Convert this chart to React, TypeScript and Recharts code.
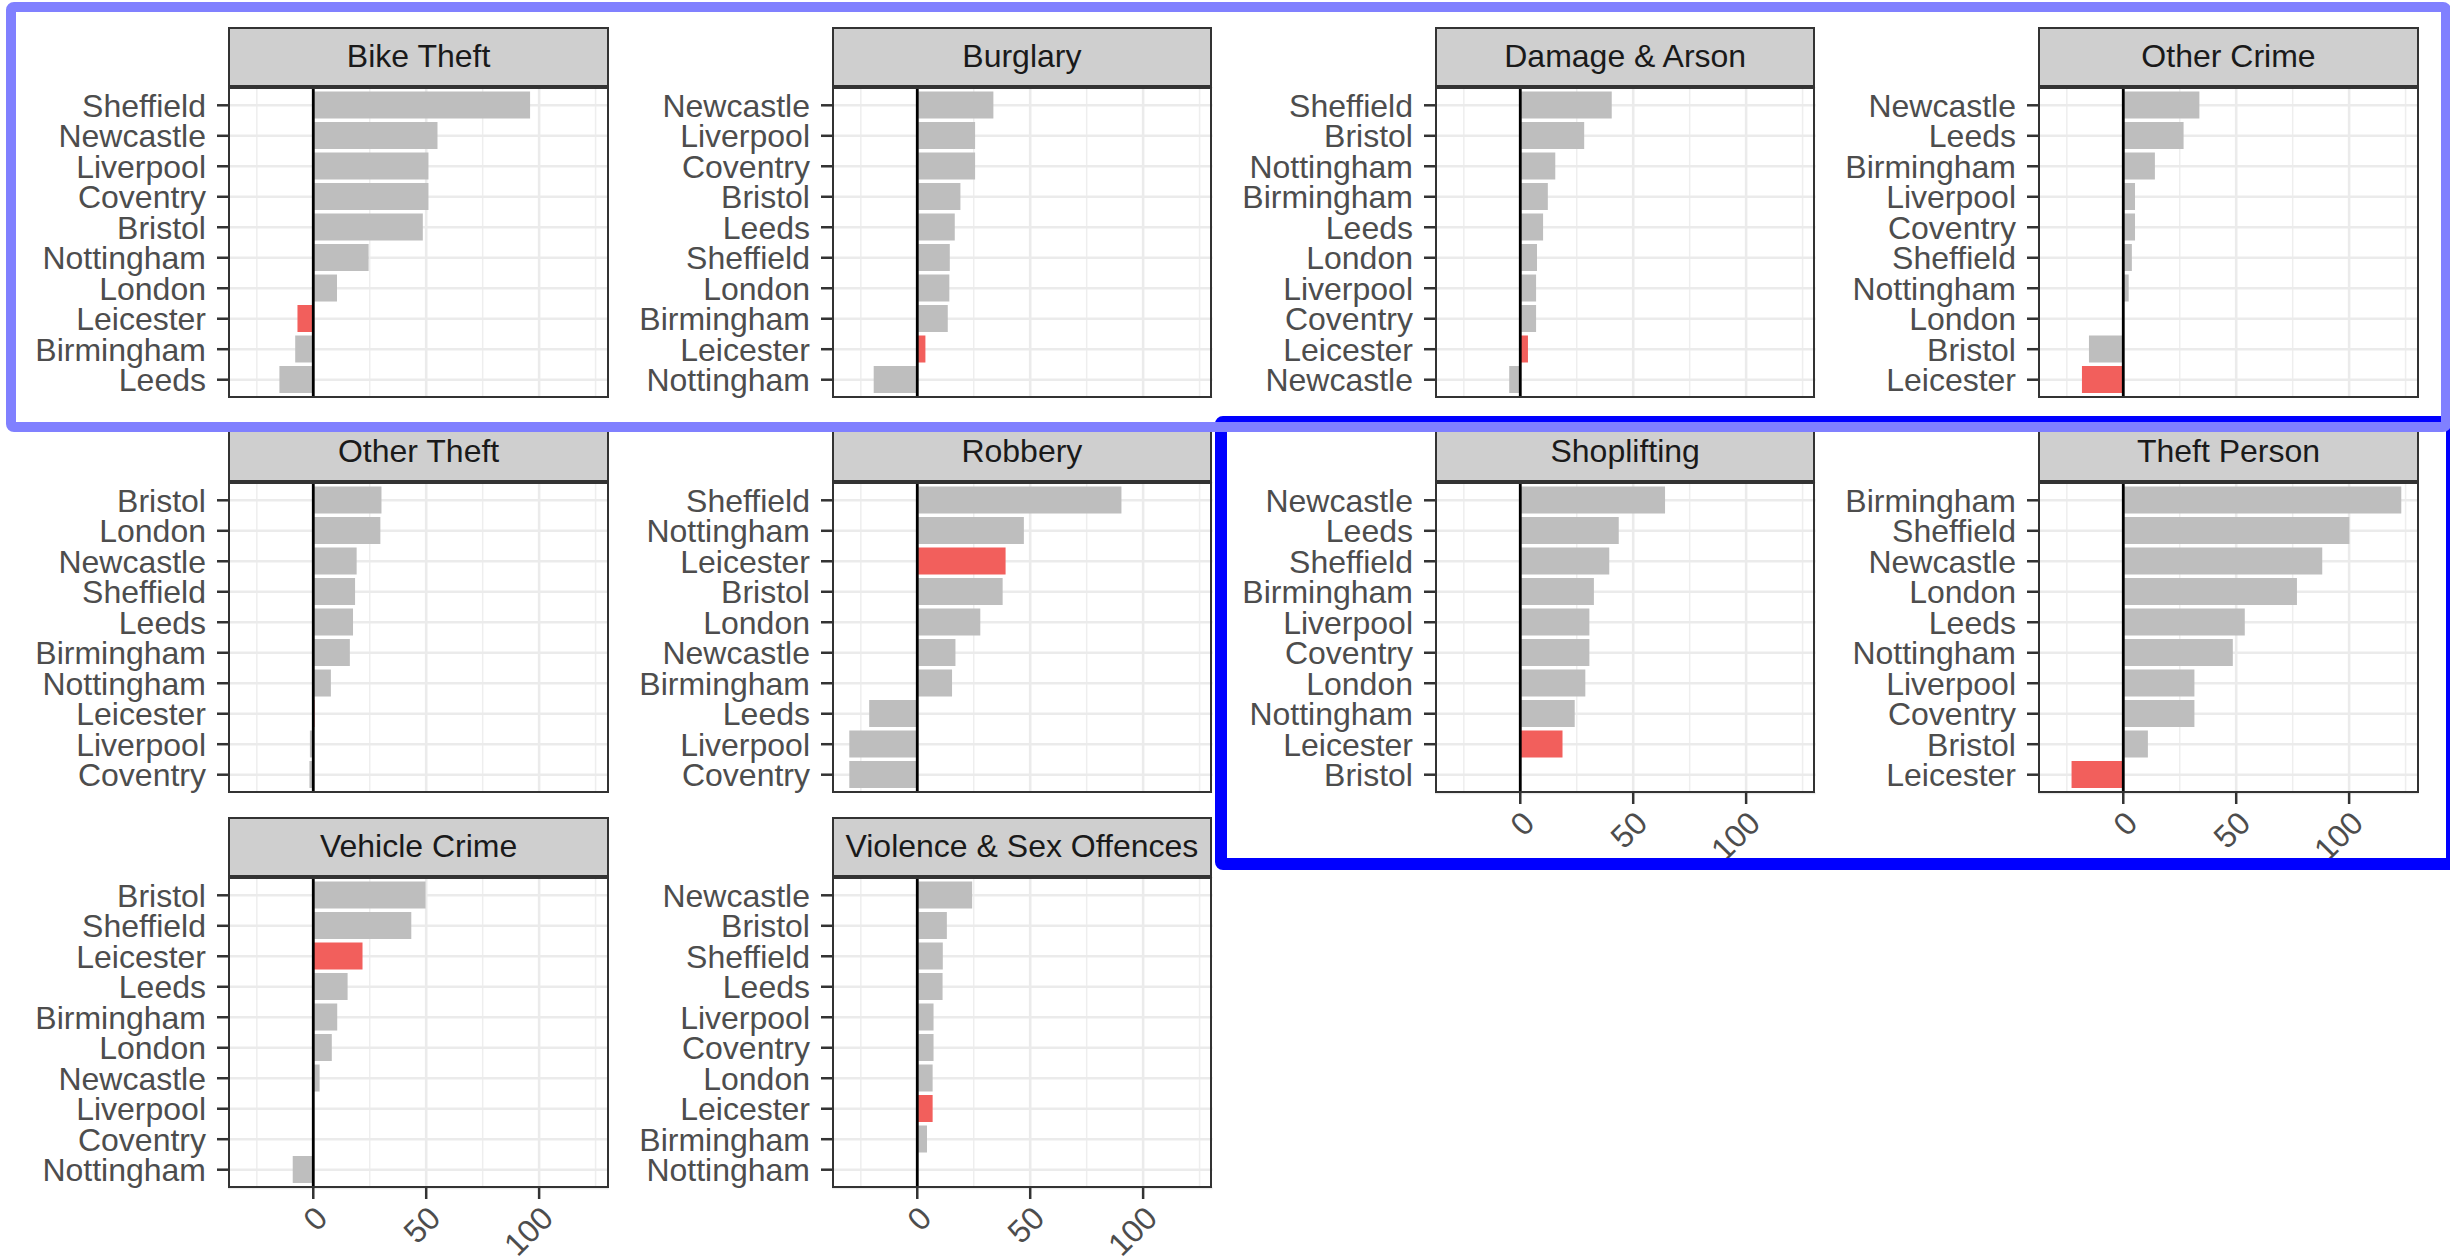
import React from 'react';
import { BarChart, Bar, XAxis, YAxis, CartesianGrid, ReferenceLine, Cell } from 'recharts';

// ---------- data (top-to-bottom order within each facet) ----------
const bikeTheftCities = ['Sheffield', 'Newcastle', 'Liverpool', 'Coventry', 'Bristol', 'Nottingham', 'London', 'Leicester', 'Birmingham', 'Leeds'];
const bikeTheftValues = [96, 55, 51, 51, 48.5, 24.5, 10.5, -7, -8, -15];

const burglaryCities = ['Newcastle', 'Liverpool', 'Coventry', 'Bristol', 'Leeds', 'Sheffield', 'London', 'Birmingham', 'Leicester', 'Nottingham'];
const burglaryValues = [33.7, 25.6, 25.6, 19.1, 16.6, 14.4, 14.2, 13.5, 3.6, -19.3];

const damageCities = ['Sheffield', 'Bristol', 'Nottingham', 'Birmingham', 'Leeds', 'London', 'Liverpool', 'Coventry', 'Leicester', 'Newcastle'];
const damageValues = [40.5, 28.3, 15.5, 12.2, 10.1, 7.4, 7.0, 7.0, 3.4, -4.9];

const otherCrimeCities = ['Newcastle', 'Leeds', 'Birmingham', 'Liverpool', 'Coventry', 'Sheffield', 'Nottingham', 'London', 'Bristol', 'Leicester'];
const otherCrimeValues = [33.7, 26.7, 14.0, 5.2, 5.2, 3.8, 2.4, 0, -15.2, -18.3];

const otherTheftCities = ['Bristol', 'London', 'Newcastle', 'Sheffield', 'Leeds', 'Birmingham', 'Nottingham', 'Leicester', 'Liverpool', 'Coventry'];
const otherTheftValues = [30.2, 29.7, 19.2, 18.5, 17.6, 16.2, 7.8, 0.5, -1.5, -1.7];

const robberyCities = ['Sheffield', 'Nottingham', 'Leicester', 'Bristol', 'London', 'Newcastle', 'Birmingham', 'Leeds', 'Liverpool', 'Coventry'];
const robberyValues = [90.4, 47.2, 39.1, 37.8, 27.9, 16.9, 15.4, -21.3, -30.1, -30.1];

const shopliftingCities = ['Newcastle', 'Leeds', 'Sheffield', 'Birmingham', 'Liverpool', 'Coventry', 'London', 'Nottingham', 'Leicester', 'Bristol'];
const shopliftingValues = [64.1, 43.6, 39.4, 32.6, 30.6, 30.6, 28.8, 24.1, 18.7, 0];

const theftPersonCities = ['Birmingham', 'Sheffield', 'Newcastle', 'London', 'Leeds', 'Nottingham', 'Liverpool', 'Coventry', 'Bristol', 'Leicester'];
const theftPersonValues = [123.1, 100.1, 88.1, 76.9, 53.8, 48.5, 31.5, 31.5, 10.9, -22.9];

const vehicleCities = ['Bristol', 'Sheffield', 'Leicester', 'Leeds', 'Birmingham', 'London', 'Newcastle', 'Liverpool', 'Coventry', 'Nottingham'];
const vehicleValues = [49.7, 43.4, 21.8, 15.2, 10.6, 8.2, 2.8, 0, 0, -9.1];

const violenceCities = ['Newcastle', 'Bristol', 'Sheffield', 'Leeds', 'Liverpool', 'Coventry', 'London', 'Leicester', 'Birmingham', 'Nottingham'];
const violenceValues = [24.3, 13.1, 11.3, 11.2, 7.2, 7.2, 6.8, 6.8, 4.3, 0];

const facetTitles = ['Bike Theft', 'Burglary', 'Damage & Arson', 'Other Crime', 'Other Theft', 'Robbery', 'Shoplifting', 'Theft Person', 'Vehicle Crime', 'Violence & Sex Offences'];
const xMajorTicks = [0, 50, 100];
const xMinorTicks = [-25, 25, 75, 125];
const highlightCity = 'Leicester';

const facets = [
  { title: facetTitles[0], cities: bikeTheftCities, values: bikeTheftValues },
  { title: facetTitles[1], cities: burglaryCities, values: burglaryValues },
  { title: facetTitles[2], cities: damageCities, values: damageValues },
  { title: facetTitles[3], cities: otherCrimeCities, values: otherCrimeValues },
  { title: facetTitles[4], cities: otherTheftCities, values: otherTheftValues },
  { title: facetTitles[5], cities: robberyCities, values: robberyValues },
  { title: facetTitles[6], cities: shopliftingCities, values: shopliftingValues },
  { title: facetTitles[7], cities: theftPersonCities, values: theftPersonValues },
  { title: facetTitles[8], cities: vehicleCities, values: vehicleValues },
  { title: facetTitles[9], cities: violenceCities, values: violenceValues },
];

// ggplot-style 5% expansion of the shared x range
const allValues = facets.flatMap((f) => f.values);
const vMin = Math.min(...allValues);
const vMax = Math.max(...allValues);
const vSpan = vMax - vMin;
const xDomain: [number, number] = [vMin - 0.05 * vSpan, vMax + 0.05 * vSpan];

// ---------- layout / style ----------
const FONT = '"Liberation Sans", Arial, Helvetica, sans-serif';
const COL_LEFT = [228.3, 831.6, 1434.9, 2038.2];
const STRIP_TOP = [26.7, 421.7, 816.7];
const STRIP_H = 60.6;
const PANEL_W = 380.6;
const PANEL_H = 311;
const YAXIS_W = 228;
const XAXIS_H = 80;
const RIGHT_M = 6;
const GRAY = '#BEBEBE';
const RED = '#F25F5C';
const TEXT_GREY = '#4D4D4D';
const FONT_SIZE = 32;

const XTick = (props: any) => {
  const { x, y, payload } = props;
  return (
    <text
      x={x}
      y={y}
      dy="0.71em"
      textAnchor="end"
      transform={`rotate(-45 ${x} ${y})`}
      fontSize={FONT_SIZE}
      fill={TEXT_GREY}
      fontFamily={FONT}
    >
      {payload.value}
    </text>
  );
};

function Facet({ facet, index }: { facet: { title: string; cities: string[]; values: number[] }; index: number }) {
  const row = Math.floor(index / 4);
  const col = index % 4;
  const showX = index >= 6;
  const left = COL_LEFT[col];
  const stripTop = STRIP_TOP[row];
  const panelTop = stripTop + STRIP_H;
  const data = facet.cities.map((c, i) => ({ city: c, value: facet.values[i] }));
  const chartH = PANEL_H + (showX ? XAXIS_H : 0);

  return (
    <>
      <div
        style={{
          position: 'absolute',
          left,
          top: stripTop,
          width: PANEL_W,
          height: STRIP_H,
          boxSizing: 'border-box',
          background: '#CFCFCF',
          border: '2px solid #333333',
          display: 'flex',
          alignItems: 'center',
          justifyContent: 'center',
          fontSize: FONT_SIZE,
          color: '#1A1A1A',
          whiteSpace: 'nowrap',
          overflow: 'hidden',
        }}
      >
        {facet.title}
      </div>
      <div style={{ position: 'absolute', left: left - YAXIS_W, top: panelTop }}>
        <BarChart
          width={YAXIS_W + PANEL_W + RIGHT_M}
          height={chartH}
          data={data}
          layout="vertical"
          margin={{ top: 0, right: RIGHT_M, bottom: 0, left: 0 }}
          barCategoryGap="5%"
        >
          <CartesianGrid horizontal={false} verticalValues={xMinorTicks} stroke="#EEEEEE" strokeWidth={1.5} />
          <CartesianGrid horizontal vertical verticalValues={xMajorTicks} stroke="#EBEBEB" strokeWidth={2.6} />
          <XAxis
            type="number"
            dataKey="value"
            domain={xDomain}
            allowDataOverflow
            ticks={xMajorTicks}
            interval={0}
            hide={!showX}
            height={XAXIS_H}
            axisLine={false}
            tickLine={{ stroke: '#333333', strokeWidth: 2.5 }}
            tickSize={11}
            tickMargin={5}
            tick={<XTick />}
          />
          <YAxis
            type="category"
            dataKey="city"
            width={YAXIS_W}
            axisLine={false}
            tickLine={{ stroke: '#333333', strokeWidth: 2.5 }}
            tickSize={11}
            tickMargin={11}
            interval={0}
            padding={{ top: 3.05, bottom: 3.05 }}
            tick={{ fontSize: FONT_SIZE, fill: TEXT_GREY, fontFamily: FONT }}
          />
          <Bar dataKey="value" isAnimationActive={false}>
            {data.map((d) => (
              <Cell key={d.city} fill={d.city === highlightCity ? RED : GRAY} />
            ))}
          </Bar>
          <ReferenceLine x={0} stroke="#000000" strokeWidth={2.8} />
        </BarChart>
      </div>
      <div
        style={{
          position: 'absolute',
          left,
          top: panelTop,
          width: PANEL_W,
          height: PANEL_H,
          boxSizing: 'border-box',
          border: '2px solid #333333',
          pointerEvents: 'none',
        }}
      />
    </>
  );
}

export default function App() {
  return (
    <div
      style={{
        position: 'absolute',
        left: 0,
        top: 0,
        width: 2450,
        height: 1260,
        overflow: 'hidden',
        background: '#FFFFFF',
        fontFamily: FONT,
      }}
    >
      {facets.map((f, i) => (
        <Facet key={f.title} facet={f} index={i} />
      ))}
      {/* highlight boxes */}
      <div
        style={{
          position: 'absolute',
          left: 1215,
          top: 416,
          width: 2458 - 1215,
          height: 870 - 416,
          boxSizing: 'border-box',
          border: '12px solid #0000FF',
          borderRadius: 8,
          pointerEvents: 'none',
        }}
      />
      <div
        style={{
          position: 'absolute',
          left: 6,
          top: 2,
          width: 2451 - 6,
          height: 432 - 2,
          boxSizing: 'border-box',
          border: '10px solid #8080FF',
          borderRadius: 8,
          pointerEvents: 'none',
        }}
      />
    </div>
  );
}
